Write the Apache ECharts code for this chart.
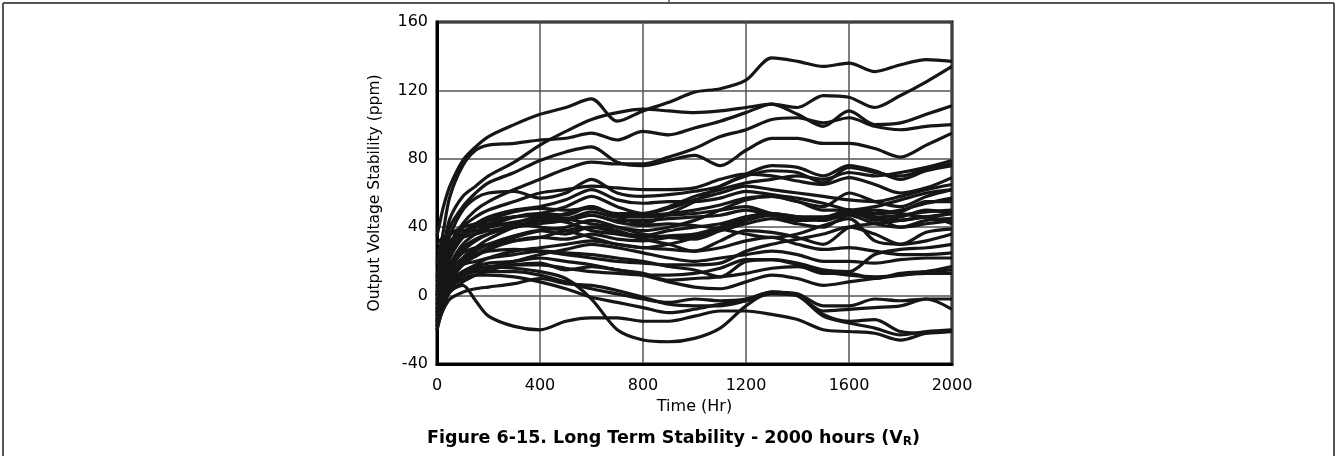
<!DOCTYPE html>
<html>
<head>
<meta charset="utf-8">
<script src="https://cdn.jsdelivr.net/npm/echarts@6/dist/echarts.min.js"></script>
<style>html,body{margin:0;padding:0;background:#fff;}#c{width:1337px;height:456px;}</style>
</head>
<body>
<div id="c"></div>
<script>
// Time samples (hours)
const times = [0,10,25,50,100,150,200,300,400,500,600,700,800,900,1000,1100,1200,1300,1400,1500,1600,1700,1800,1900,2000];
const xTicks = [0,400,800,1200,1600,2000];
const yTicks = [-40,0,40,80,120,160];
// Output voltage stability (ppm) for each unit
const s1  = [35,42,52,64,79,87,93,100,106,110,115,102,108,113,119,121,126,139,137,134,136,131,135,138,137];
const s2  = [18,25,38,58,76,85,88,89,91,92,95,91,96,94,98,102,107,112,110,117,116,110,117,125,134];
const s3  = [10,18,28,45,58,64,70,78,88,96,103,107,109,108,107,108,110,112,106,99,108,100,101,106,111];
const s4  = [5,12,22,40,52,60,66,72,79,84,87,78,76,79,82,76,85,92,92,89,89,86,81,88,95];
const s5  = [0,8,16,30,42,50,55,62,68,74,78,77,77,81,86,93,97,103,104,101,104,99,97,99,100];
const s6  = [2,10,20,35,50,57,60,61,57,60,68,60,58,59,61,64,71,76,75,70,76,73,68,73,76];
const s7  = [0,6,14,26,40,46,50,55,60,62,64,63,62,62,63,68,71,70,67,65,69,65,60,63,69];
const s8  = [-2,4,12,24,36,42,46,50,52,56,62,56,54,55,55,57,61,59,57,54,50,48,49,55,55];
const s9  = [-5,2,10,22,34,40,44,49,51,50,51,48,48,51,56,60,64,62,60,58,56,55,58,62,65];
const s10 = [-8,0,8,18,30,36,40,46,48,47,52,47,47,48,50,53,57,58,55,50,50,52,56,60,62];
const s11 = [-10,-3,5,15,26,32,36,42,46,45,49,46,46,47,48,50,52,48,46,46,49,48,50,54,57];
const s12 = [-12,-5,3,12,22,28,33,40,44,44,47,44,44,45,46,47,50,47,44,45,48,46,47,49,50];
const s13 = [-6,0,8,18,28,33,36,40,42,44,47,43,41,42,41,39,36,34,36,41,45,32,30,37,39];
const s14 = [-15,-8,0,10,20,26,30,35,38,36,40,37,35,38,40,42,46,48,44,45,50,44,46,50,48];
const s15 = [-18,-10,-2,8,18,23,27,32,34,33,36,33,32,34,35,38,42,45,42,40,47,42,40,44,45];
const s16 = [20,24,28,32,36,38,40,43,45,43,38,36,34,35,36,40,44,47,45,44,48,45,44,46,42];
const s17 = [-3,3,10,18,25,28,30,32,34,38,40,38,33,30,26,32,38,37,34,30,40,42,44,46,48];
const s18 = [-10,-4,4,12,18,20,22,24,26,25,24,22,20,17,15,11,20,21,18,13,13,10,13,14,15];
const s19 = [-14,-8,0,8,14,17,19,20,22,20,18,15,13,9,10,11,13,16,17,14,12,11,12,13,13];
const s20 = [-16,-10,-2,6,12,15,17,18,18,16,14,13,12,12,13,16,21,21,19,15,14,24,27,28,30];
const s21 = [-8,-2,6,14,22,24,26,27,26,24,22,20,19,18,18,19,26,30,33,36,40,36,30,32,36];
const s22 = [-5,-2,0,3,6,-3,-12,-18,-20,-15,-13,-13,-15,-15,-12,-9,-9,-11,-14,-20,-21,-22,-26,-22,-21];
const s23 = [-12,-6,2,8,14,16,17,16,14,10,-2,-20,-26,-27,-25,-19,-6,2,0,-11,-15,-14,-21,-22,-21];
const s24 = [-14,-8,0,6,10,12,12,11,8,4,-1,-4,-7,-10,-8,-5,-3,1,0,-9,-8,-7,-6,-2,-8];
const s25 = [-18,-12,-4,4,10,12,14,14,12,8,4,1,-2,-4,-2,-3,-2,2,1,-6,-6,-2,-3,-2,-2];
const s26 = [-10,-4,2,8,12,14,15,18,19,15,17,15,12,8,5,4,8,12,10,6,8,10,12,14,17];
const s27 = [-20,-14,-8,-2,2,4,5,7,10,7,6,3,-1,-5,-6,-6,-3,2,0,-12,-16,-19,-23,-21,-20];
const s28 = [8,14,20,28,34,36,38,40,44,48,52,46,42,48,55,64,70,73,72,66,75,72,70,74,77];
const s29 = [12,16,22,30,36,40,42,46,48,52,58,52,48,52,58,62,66,68,70,68,72,70,72,75,79];
const s30 = [25,28,32,36,40,42,44,46,47,45,42,40,38,40,44,50,56,58,55,52,60,55,52,58,62];
const s31 = [30,32,34,36,38,40,41,42,40,38,34,30,28,30,34,40,46,48,46,44,50,46,40,42,44];
const s32 = [-16,-10,-2,6,14,18,22,26,28,30,32,30,28,27,26,28,32,34,30,27,28,26,24,24,25];
const s33 = [-20,-14,-6,2,8,12,16,20,24,27,30,28,25,22,20,22,24,26,24,20,20,19,21,22,22];
const s34 = [0,4,8,14,20,24,28,34,38,40,44,40,36,34,33,38,44,48,46,44,48,50,48,46,48];

const allSeries = [s1,s2,s3,s4,s5,s6,s7,s8,s9,s10,s11,s12,s13,s14,s15,s16,s17,s18,s19,s20,s21,s22,s23,s24,s25,s26,s27,s28,s29,s30,s31,s32,s33,s34];

const font = '"DejaVu Sans", "Liberation Sans", Arial, sans-serif';
const chart = echarts.init(document.getElementById('c'), null, {renderer: 'canvas'});
chart.setOption({
  animation: false,
  backgroundColor: '#fff',
  grid: {left: 437, right: 385, top: 22, bottom: 92, show: true, borderColor: '#000', borderWidth: 3, backgroundColor: 'transparent'},
  title: {
    text: '{a|Figure 6-15. Long Term Stability - 2000 hours (V}{s|R}{a|)}',
    left: 668.5, top: 424, textAlign: 'center',
    textStyle: {rich: {
      a: {fontFamily: font, fontWeight: 'bold', fontSize: 17.5, color: '#000'},
      s: {fontFamily: font, fontWeight: 'bold', fontSize: 12, color: '#000', verticalAlign: 'bottom', padding: [7,0,0,0]}
    }}
  },
  xAxis: {
    type: 'value', min: 0, max: 2000, interval: 400,
    name: 'Time (Hr)', nameLocation: 'middle', nameGap: 34,
    nameTextStyle: {fontFamily: font, fontSize: 16, color: '#000'},
    axisLine: {show: true, onZero: false, lineStyle: {color: '#000', width: 3}},
    axisTick: {show: false},
    axisLabel: {fontFamily: font, fontSize: 16, color: '#000', margin: 14,
      formatter: v => xTicks.includes(v) ? String(v) : ''},
    splitLine: {show: true, lineStyle: {color: '#555', width: 1.5}}
  },
  yAxis: {
    type: 'value', min: -40, max: 160, interval: 40,
    name: 'Output Voltage Stability (ppm)', nameLocation: 'middle', nameGap: 54,
    nameTextStyle: {fontFamily: font, fontSize: 15.5, color: '#000'},
    axisLine: {show: true, onZero: false, lineStyle: {color: '#000', width: 3}},
    axisTick: {show: false},
    axisLabel: {fontFamily: font, fontSize: 16, color: '#000', margin: 9,
      formatter: v => yTicks.includes(v) ? String(v) : ''},
    splitLine: {show: true, lineStyle: {color: '#555', width: 1.5}}
  },
  graphic: [
    {type: 'line', shape: {x1: 3, y1: 3, x2: 1334, y2: 3}, style: {stroke: '#555', lineWidth: 2}, silent: true},
    {type: 'line', shape: {x1: 3, y1: 3, x2: 3, y2: 456}, style: {stroke: '#555', lineWidth: 2}, silent: true},
    {type: 'line', shape: {x1: 1334, y1: 3, x2: 1334, y2: 456}, style: {stroke: '#555', lineWidth: 2}, silent: true},
    {type: 'line', shape: {x1: 669, y1: 0, x2: 669, y2: 3}, style: {stroke: '#555', lineWidth: 1.5}, silent: true}
  ],
  series: allSeries.map((vals, i) => ({
    name: 'Unit ' + (i + 1),
    type: 'line',
    data: times.map((t, j) => [t, vals[j]]),
    showSymbol: false,
    smooth: 0.3,
    clip: true,
    lineStyle: {color: '#161616', width: 3.2},
    z: 3
  }))
});
</script>
</body>
</html>
